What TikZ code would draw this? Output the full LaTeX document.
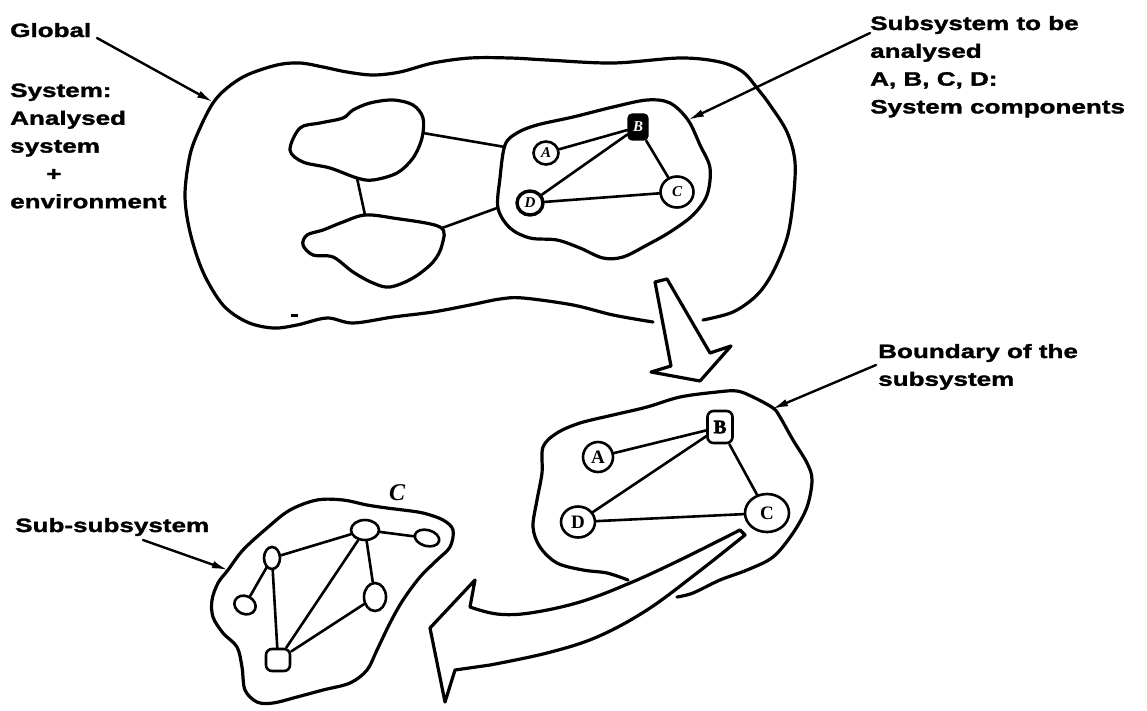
\documentclass[tikz,border=0pt]{standalone}
\usepackage{fontspec}
\usetikzlibrary{arrows.meta,shapes.geometric}
\newfontfamily\lblfont{Liberation Sans Bold}[FakeStretch=1.35,FakeBold=1.6]
\newfontfamily\handfont{Liberation Serif}
\newfontfamily\heavyhand{Liberation Serif Bold}[FakeBold=3]
\newcommand\txtblk[1]{\begin{tabular}[t]{@{}l@{}}#1\end{tabular}}
\begin{document}
\begin{tikzpicture}[x=1pt,y=-1pt,
  lbl/.style={inner sep=0pt, font=\lblfont\fontsize{19.3}{27.8}\selectfont},
  outline/.style={line width=3.2pt, line cap=round, line join=round},
  link/.style={line width=2.6pt, line cap=round},
  comp/.style={draw, line width=2.6pt, ellipse, inner sep=0pt, fill=white},
  smallletter/.style={font=\handfont\bfseries\itshape\fontsize{15}{15}\selectfont},
  bigletter/.style={font=\handfont\bfseries\fontsize{19}{19}\selectfont},
  ptr/.style={line width=2.4pt, line cap=round, -{Latex[length=16pt,width=7.5pt]}},
]
\useasboundingbox (0,0) rectangle (1147,710);

% ---------- texts ----------
\node[lbl, anchor=base west] (global) at (10,37) {Global};
\node[lbl, anchor=base west] (sysdef) at (10,97) {\txtblk{System:\\Analysed\\system\\\hspace*{36pt}+\\environment}};
\node[lbl, anchor=base west] (subtxt) at (870,30) {\txtblk{Subsystem to be\\analysed\\A, B, C, D:\\System components}};
\node[lbl, anchor=base west] (bndtxt) at (878,358) {\txtblk{Boundary of the\\subsystem}};
\node[lbl, anchor=base west] (subsubtxt) at (15,532) {Sub-subsystem};

% ---------- global system ----------
\draw[outline] plot[smooth, tension=0.55] coordinates {(653,322) (613,315) (573,305) (523,298) (500,299) (470,305) (433,312) (393,317) (353,323) (327,318) (297,325) (273,328) (247,322) (223,305) (203,272) (190,232) (185,195) (190,155) (200,128) (213,103) (227,88) (247,75) (277,65) (300,63) (323,67) (347,72) (373,75) (400,72) (433,63) (470,58) (510,58) (547,60) (613,63) (680,58) (720,62) (743,72) (757,88) (770,105) (787,132) (795,162) (793,202) (787,238) (773,272) (757,295) (733,312) (703,320)};
\fill (291,314) rectangle (298,317);

% environment blobs
\draw[outline] plot[smooth cycle, tension=0.55] coordinates {(290,150) (300,128) (320,123) (343,118) (353,110) (370,103) (393,100) (413,105) (423,118) (422,138) (413,158) (397,173) (373,180) (357,178) (330,168) (303,162)};
\draw[outline] plot[smooth cycle, tension=0.55] coordinates {(365,215) (393,218) (440,227) (442,245) (433,262) (413,278) (390,287) (373,283) (353,272) (333,257) (313,255) (303,245) (307,235) (323,230) (343,222)};

% subsystem blob (upper)
\draw[outline] plot[smooth cycle, tension=0.55] coordinates {(505,145) (517,133) (537,125) (573,117) (613,107) (647,100) (670,103) (688,120) (700,145) (710,168) (707,195) (693,215) (670,232) (647,245) (623,257) (603,258) (580,248) (557,240) (530,238) (510,228) (498,208) (500,178)};

\coordinate (ubR) at (423,133);
\coordinate (ssL1) at (505,147);
\coordinate (ubB) at (357,178);
\coordinate (lbT) at (365,215);
\coordinate (lbR) at (442,228);
\coordinate (ssL2) at (497,208);
\draw[link] (ubR) -- (ssL1);
\draw[link] (ubB) -- (lbT);
\draw[link] (lbR) -- (ssL2);

% upper components
\node[comp, smallletter, minimum width=25pt, minimum height=23pt] (uA) at (546,153) {A};
\node[draw, fill=black, text=white, rounded corners=4pt, line width=2.4pt, inner sep=0pt, minimum width=19pt, minimum height=25pt, smallletter] (uB) at (638,127) {B};
\node[comp, smallletter, line width=3.4pt, minimum width=26pt, minimum height=24pt] (uD) at (530,203) {D};
\node[comp, smallletter, minimum width=33pt, minimum height=31pt] (uC) at (677,192) {C};
\draw[link] (uA) -- (uB);
\draw[link] (uB) -- (uD);
\draw[link] (uB) -- (uC);
\draw[link] (uD) -- (uC);

% ---------- down arrow ----------
\draw[outline, fill=white] (655,282) -- (671,366) -- (651,372) -- (700,381) -- (731,346) -- (710,353) -- (667,279) -- cycle;

% ---------- subsystem (lower) ----------
\draw[outline] plot[smooth, tension=0.55] coordinates {(677,597) (693,593) (720,580) (747,570) (773,557) (793,533) (807,507) (812,480) (807,463) (793,440) (780,417) (773,408) (753,397) (737,391) (717,392) (680,397) (647,407) (613,415) (580,423) (557,433) (543,447) (542,473) (537,500) (533,527) (540,547) (557,563) (583,570) (607,573) (628,580)};

\node[comp, bigletter, minimum width=30pt, minimum height=30pt] (lA) at (598,457) {A};
\node[draw, fill=white, rounded corners=6pt, line width=2.6pt, inner sep=0pt, minimum width=25pt, minimum height=32pt, font=\heavyhand\fontsize{19}{19}\selectfont] (lB) at (720,427) {B};
\node[comp, bigletter, minimum width=34pt, minimum height=31pt] (lD) at (578,522) {D};
\node[comp, bigletter, minimum width=44pt, minimum height=38pt] (lC) at (767,513) {C};
\draw[link] (lA) -- (lB);
\draw[link] (lB) -- (lD);
\draw[link] (lB) -- (lC);
\draw[link] (lD) -- (lC);

% ---------- big curved arrow ----------
\draw[outline, fill=white] plot[smooth, tension=0.6] coordinates {(740,530) (680,560) (630,583) (580,602) (530,613) (497,614) (470,607)} -- (475,580) -- (430,628) -- (445,702) -- (455,670) -- plot[smooth, tension=0.6] coordinates {(490,665) (547,653) (597,637) (647,610) (697,573) (745,535)} -- cycle;

% ---------- sub-subsystem ----------
\draw[outline] plot[smooth cycle, tension=0.55] coordinates {(228,570) (243,550) (267,528) (290,510) (317,500) (343,500) (367,505) (387,508) (403,510) (423,513) (443,520) (453,530) (450,547) (437,560) (420,577) (403,600) (390,623) (377,650) (367,670) (350,683) (323,690) (297,697) (273,703) (257,702) (245,690) (242,667) (237,647) (223,633) (213,617) (212,600) (218,583)};
\node[font=\handfont\bfseries\itshape\fontsize{24}{24}\selectfont, inner sep=0pt] (clbl) at (397,493) {C};

\node[comp, minimum width=28pt, minimum height=20pt] (n1) at (365,530) {};
\node[comp, minimum width=25pt, minimum height=16pt, rotate=-15] (n2) at (427,538) {};
\node[comp, minimum width=16pt, minimum height=22pt] (n3) at (272,558) {};
\node[comp, minimum width=22pt, minimum height=18pt, rotate=-25] (n4) at (245,605) {};
\node[comp, minimum width=22pt, minimum height=28pt] (n5) at (375,597) {};
\node[draw, fill=white, rounded corners=6pt, line width=2.6pt, minimum width=24pt, minimum height=22pt, inner sep=0pt] (n6) at (278,660) {};
\draw[link] (n3) -- (n1);
\draw[link] (n1) -- (n2);
\draw[link] (n1) -- (n5);
\draw[link] (n1) -- (n6);
\draw[link] (n3) -- (n6);
\draw[link] (n3) -- (n4);
\draw[link] (n5) -- (n6);

% ---------- pointer arrows ----------
\coordinate (g0) at (97,38);   \coordinate (g1) at (213,102);
\coordinate (s0) at (870,33);  \coordinate (s1) at (688,120);
\coordinate (b0) at (876,365); \coordinate (b1) at (772,409);
\coordinate (q0) at (143,540); \coordinate (q1) at (228,570);
\draw[ptr] (g0) -- (g1);
\draw[ptr] (s0) -- (s1);
\draw[ptr] (b0) -- (b1);
\draw[ptr] (q0) -- (q1);
\end{tikzpicture}
\end{document}
